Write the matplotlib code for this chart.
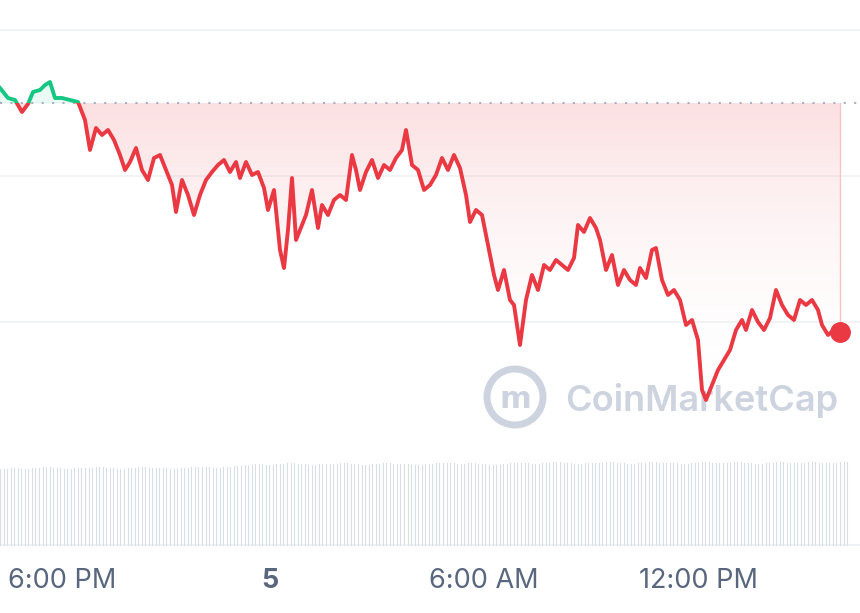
import matplotlib
matplotlib.use("Agg")
import matplotlib.pyplot as plt
import numpy as np
from matplotlib.patches import Rectangle, Circle, Polygon

# time position (chart px units) and price (arbitrary units)
t = [0,8,15,22,28,33,40,45,50,55,62,70,78,85,90,96,102,108,114,120,125,130,136,142,148,154,160,166,172,176,182,188,194,200,206,212,218,224,230,236,240,246,252,258,264,268,274,280,284,288,292,296,300,306,312,318,322,328,334,340,346,352,356,360,366,372,378,384,390,396,402,406,412,418,424,430,436,442,448,454,460,466,470,476,482,488,494,498,504,510,514,520,526,532,538,544,550,556,562,568,574,578,584,590,596,600,606,612,618,624,630,636,640,646,652,656,662,668,674,680,686,692,698,702,706,712,718,724,730,736,742,746,752,758,764,770,776,782,788,794,800,806,812,818,822,828,834,840]
ypx = [88,98,100,112,104,92,90,85,82,98,98,100,102,120,150,128,135,130,140,155,170,162,148,170,180,158,155,170,185,212,180,195,215,195,180,172,165,160,172,162,178,162,175,172,188,210,190,250,268,230,178,240,230,215,190,228,205,215,200,195,200,155,170,190,172,160,178,165,170,158,150,130,165,170,190,185,175,158,170,155,168,195,222,210,215,245,275,290,270,300,305,345,300,275,290,265,270,260,265,270,258,225,232,218,228,240,270,255,285,270,280,285,268,278,250,248,280,295,290,300,325,320,340,390,400,385,370,360,350,330,320,330,310,322,330,318,290,305,315,320,300,305,300,310,325,335,330,332]
price = [500 - y for y in ypx]
baseline = 500 - 103
grid_levels = [470, 324, 178]
vol = [76,77,76,77,78,77,76,77,77,78,77,76,77,78,77,77,76,77,78,78,77,78,79,80,81,80,81,82,81,80,81,81,82,81,80,81,82,81,81,80,81,82,82,81,82,81,80,81,82,82,81,82,83,82,81,82,82,83,82,81,82,83,82,82,81,82,83,82,82,83,82,81,82,83,82,82,83,82,82,83]
tick_pos = [62, 270, 484, 698]
tick_lab = ["6:00 PM", "5", "6:00 AM", "12:00 PM"]

RED = "#ea3943"; GREEN = "#16c784"; GRAY = "#58667e"

fig = plt.figure(figsize=(8.6, 6.13), dpi=100)
ax = fig.add_axes([0, 0, 1, 1])
ax.set_xlim(0, 860); ax.set_ylim(-113, 500); ax.axis("off")

for g in grid_levels:
    ax.axhline(g, color="#eff2f5", lw=1.2, zorder=1)
ax.axhline(-45, color="#eff2f5", lw=1.2, zorder=1)

n = len(vol)
vx = np.linspace(0, 840, n)
for x0, v in zip(vx, vol):
    for k in range(3):
        ax.plot([x0 + k * 3.5, x0 + k * 3.5], [-45, -45 + v], color="#d9dee6", lw=0.8, zorder=2)

tt = np.array(t, float); pp = np.array(price, float)
poly_pts = np.column_stack([np.r_[tt, tt[-1], tt[0]], np.r_[np.minimum(pp, baseline), baseline, baseline]])
poly = Polygon(poly_pts, closed=True, facecolor="none", edgecolor="none")
ax.add_patch(poly)
grad = np.linspace(1, 0, 256).reshape(-1, 1)
cmap = matplotlib.colors.LinearSegmentedColormap.from_list("r", [(1, 1, 1, 0), (0.92, 0.22, 0.26, 0.16)])
im = ax.imshow(grad[::-1], extent=[0, 840, 100, baseline], aspect="auto", cmap=cmap, origin="lower", zorder=2)
im.set_clip_path(poly)
ax.plot([840, 840], [baseline, pp[-1]], color="#f7c5c8", lw=1, zorder=2)

ax.fill_between(tt, pp, baseline, where=pp > baseline, interpolate=True, color=GREEN, alpha=0.08, zorder=2)

ax.plot([0, 860], [baseline, baseline], color="#a6b0c3", lw=1.5, ls=(0, (1, 4)), zorder=3)

l1, = ax.plot(tt, pp, color=RED, lw=2.8, zorder=4, solid_joinstyle="round")
l1.set_clip_path(Rectangle((0, -200), 900, baseline + 200, transform=ax.transData))
l2, = ax.plot(tt, pp, color=GREEN, lw=2.8, zorder=4, solid_joinstyle="round")
l2.set_clip_path(Rectangle((0, baseline), 900, 400, transform=ax.transData))
ax.plot(tt[-1], pp[-1], "o", ms=14, color=RED, zorder=5)

ax.add_patch(Circle((515, 500 - 397), 28, fill=False, ec="#cdd4df", lw=5, zorder=3))
ax.text(515, 500 - 399, "m", ha="center", va="center", fontsize=22, color="#cdd4df", fontweight="bold", zorder=3)
ax.text(565, 500 - 400, "CoinMarketCap", ha="left", va="center", fontsize=26, color="#cdd4df",
        fontweight="semibold", family="Inter", zorder=3)

for p, l in zip(tick_pos, tick_lab):
    ax.text(p, 500 - 581, l, ha="center", va="center", fontsize=19.5, color=GRAY,
            fontweight="bold" if l == "5" else "normal", family="Inter")

fig.savefig("out.png", dpi=100)
